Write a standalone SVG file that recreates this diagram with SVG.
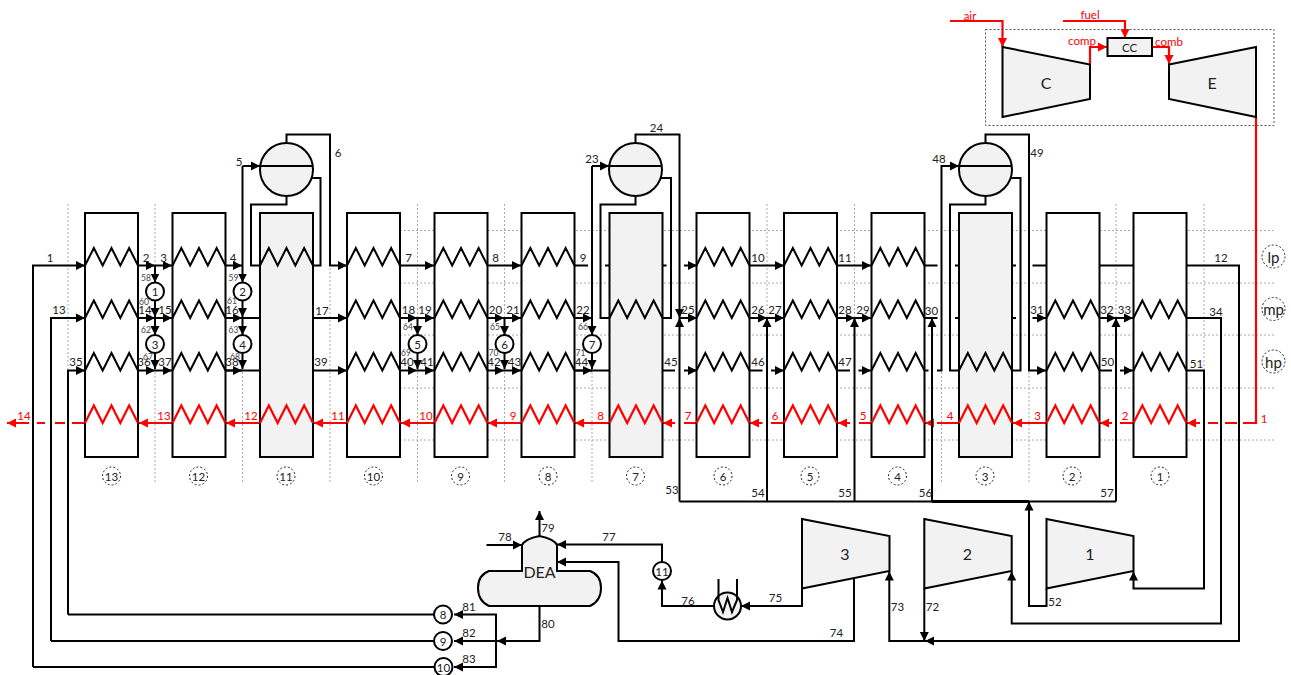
<svg xmlns="http://www.w3.org/2000/svg" width="1291" height="675" viewBox="0 0 1291 675">
<style>
text{font-family:Lato,"Liberation Sans",sans-serif;font-size:11.500px;fill:#222;text-anchor:middle;dominant-baseline:central}
.s{font-size:8.500px;fill:#444}
.r{fill:#f00}
.b{font-size:16px}
.l{font-size:15px}
.grid line{stroke:#aaa;stroke-width:1;stroke-dasharray:2 2;fill:none}
.dot{stroke:#555;stroke-width:1;stroke-dasharray:2 2;fill:none}
.dotc{stroke:#222;stroke-width:1;stroke-dasharray:2 2;fill:#fff}
.k,.k path{fill:none;stroke:#000;stroke-width:2}
.h,.h path{fill:none;stroke:#f00;stroke-width:2.200}
.box{fill:#fff;stroke:#000;stroke-width:2}
.gr{fill:#f2f2f2;stroke:#000;stroke-width:2}
.node{fill:#fff;stroke:#000;stroke-width:2}
.a{marker-end:url(#ak)}
.ar{marker-end:url(#ar)}
</style>
<defs>
<marker id="ak" markerUnits="userSpaceOnUse" markerWidth="10" markerHeight="10" refX="9" refY="5" orient="auto"><path d="M0 .5L9 5 0 9.500z" fill="#000"/></marker>
<marker id="ar" markerUnits="userSpaceOnUse" markerWidth="10" markerHeight="10" refX="9" refY="5" orient="auto"><path d="M0 .5L9 5 0 9.500z" fill="#f00"/></marker>
<path id="coil" d="M0 0l8.830-17.500 8.830 17.500 8.830-17.500 8.830 17.500 8.830-17.500 8.830 17.500" fill="none"/>
</defs>

<g class="grid">
<line x1="68" y1="204" x2="68" y2="483"/><line x1="155" y1="204" x2="155" y2="483"/><line x1="242.500" y1="204" x2="242.500" y2="483"/><line x1="330" y1="204" x2="330" y2="483"/><line x1="417.500" y1="204" x2="417.500" y2="483"/><line x1="504.500" y1="204" x2="504.500" y2="483"/><line x1="592" y1="204" x2="592" y2="483"/><line x1="679.500" y1="204" x2="679.500" y2="483"/><line x1="767" y1="204" x2="767" y2="483"/><line x1="854.500" y1="204" x2="854.500" y2="483"/><line x1="941.500" y1="204" x2="941.500" y2="483"/><line x1="1029" y1="204" x2="1029" y2="483"/><line x1="1116" y1="204" x2="1116" y2="483"/><line x1="1204" y1="204" x2="1204" y2="483"/>
<line x1="400" y1="230.500" x2="1274" y2="230.500"/><line x1="400" y1="283" x2="1274" y2="283"/><line x1="400" y1="335" x2="1274" y2="335"/><line x1="400" y1="388" x2="1274" y2="388"/><line x1="400" y1="440" x2="1274" y2="440"/>
</g>

<g id="connectors">
<g class="h">
<path class="ar" d="M1256 117V423H1243M1237 423H1225M1218 423H1208M1200 423H1187"/>
<path class="ar" d="M1133 423H1120M1112 423H1100"/>
<path class="ar" d="M1046 423H1013"/>
<path class="ar" d="M959 423H937M932 423H925"/>
<path class="ar" d="M871 423H859M850 423H838"/>
<path class="ar" d="M784 423H771M762.500 423H750"/>
<path class="ar" d="M697 423H684M675 423H663"/>
<path class="ar" d="M609 423H575"/>
<path class="ar" d="M521 423H488"/>
<path class="ar" d="M434 423H401"/>
<path class="ar" d="M347 423H314"/>
<path class="ar" d="M260 423H226"/>
<path class="ar" d="M172 423H139"/>
<path class="ar" d="M85 423H72M65 423H55M45 423H37M29 423H7"/>
<path class="ar" d="M950 21H1002.500V47"/>
<path class="ar" d="M1063 21H1125V38"/>
<path class="ar" d="M1090 64V47H1107"/>
<path class="ar" d="M1152 47H1169V64"/>
</g>
<g class="k">
<path class="a" d="M33 667V265.500H85"/>
<path class="a" d="M51 641V318H85"/>
<path class="a" d="M68 614.500V370.500H85"/>
<path class="a" d="M138 265.500H155"/><path class="a" d="M155 265.500H172"/><path class="a" d="M225 265.500H242"/>
<path class="a" d="M138 318H155"/><path class="a" d="M155 318H172"/><path d="M225 318H260"/><path class="a" d="M225 318H242"/>
<path class="a" d="M138 370.500H155"/><path class="a" d="M155 370.500H172"/><path d="M225 370.500H260"/><path class="a" d="M225 370.500H242"/>
<path class="a" d="M155 265.500V282.500"/><path class="a" d="M155 300V317"/><path class="a" d="M155 318V335"/><path class="a" d="M155 353V369"/>
<path class="a" d="M242.500 166V282.500"/><path class="a" d="M242.500 300V317"/><path class="a" d="M242.500 318V335"/><path class="a" d="M242.500 353V369"/>
<path d="M286.500 196V204.500H251V265.500H260M313 265.500H320.500V178H312"/>
<path class="a" d="M286.500 143V134.500H330V265.500H347"/>
<path class="a" d="M242.500 166H260"/>
<path class="a" d="M313 318H347"/><path class="a" d="M313 370.500H347"/>
<path class="a" d="M400 265.500H434"/><path class="a" d="M487 265.500H521"/><path d="M574 265.500H588M605 265.500H666.500"/><path class="a" d="M684 265.500H697"/>
<path class="a" d="M400 318H417"/><path class="a" d="M417 318H434"/><path class="a" d="M487 318H504"/><path class="a" d="M504 318H521"/><path class="a" d="M574 318H592"/>
<path class="a" d="M400 370.500H417"/><path class="a" d="M417 370.500H434"/><path class="a" d="M487 370.500H504"/><path class="a" d="M504 370.500H521"/><path d="M574 370.500H609"/><path class="a" d="M574 370.500H592"/>
<path class="a" d="M417.500 318V335"/><path class="a" d="M417.500 353V369"/><path class="a" d="M504.500 318V335"/><path class="a" d="M504.500 353V369"/>
<path class="a" d="M592 166V335"/><path class="a" d="M592 166H609"/><path class="a" d="M592 353V369"/>
<path d="M635.500 196V204.500H600.500V318H609M662 318H671V178H661"/>
<path class="a" d="M635.500 143V134.500H679.500V318"/>
<path class="a" d="M679.500 501.500V318"/><path class="a" d="M679.500 318H697"/>
<path d="M662 370.500H675"/><path class="a" d="M684 370.500H697"/>
<path class="a" d="M749 265.500H784"/><path class="a" d="M837 265.500H871"/><path d="M924 265.500H937.500M955 265.500H959"/>
<path class="a" d="M749 318H767"/><path class="a" d="M767 318H784"/><path class="a" d="M837 318H854.500"/><path class="a" d="M854.500 318H871"/><path d="M924 318H937.500M955 318H959"/>
<path d="M749 370.500H762.500"/><path class="a" d="M771 370.500H784"/><path d="M837 370.500H850"/><path class="a" d="M858.500 370.500H871"/>
<path d="M924 370.500H928.500M937 370.500H941.500V166H950"/><path class="a" d="M941.500 166H959"/>
<path d="M985.500 196V204.500H950V370.500H959M1012 370.500H1020.500V178H1011"/>
<path class="a" d="M985.500 143V134.500H1029V370.500H1046"/>
<path d="M1012 265.500H1016M1032.500 265.500H1046M1099 265.500H1133"/>
<path d="M1012 318H1016"/><path class="a" d="M1032.500 318H1046"/><path class="a" d="M1099 318H1116"/><path class="a" d="M1116 318H1133"/>
<path d="M1099 370.500H1112"/><path class="a" d="M1120 370.500H1133"/>
<path class="a" d="M1186 265.500H1239V641H925"/>
<path class="a" d="M1186 318H1221V623.500H1011.700V571.500"/>
<path class="a" d="M1186 370.500H1204V588.500H1133.500V571.500"/>
<path d="M679.500 501.500H1116"/><path d="M932 501.500H1029" style="stroke-width:3"/>
<path class="a" d="M767 501.500V318"/><path class="a" d="M854.500 501.500V318"/><path class="a" d="M932 501.500V318"/><path class="a" d="M1116 501.500V318"/>
<path class="a" d="M1046.500 588.500V606H1029V501.500"/>
<path class="a" d="M924.300 588.500V641"/>
<path class="a" d="M925 641H889.300V571.500"/>
<path class="a" d="M802 588.500V606H741"/>
<path class="a" d="M714 606H662V580.500"/>
<path class="a" d="M662 561.500V544.500H557"/>
<path class="a" d="M854 578V641H618.500V562H557"/>
<path class="a" d="M539.500 536V511"/>
<path class="a" d="M486.500 545H522"/>
<path class="a" d="M539.500 606V641H497"/>
<path d="M434 614.500H68M434 641H51M434 667H33"/>
<path class="a" d="M496 641V614.500H454"/><path class="a" d="M496 641H454"/><path class="a" d="M496 641V667H454"/>
</g>
</g>

<g id="col13" class="k"><rect class="box" x="85" y="213" width="53" height="244"/><use href="#coil" x="85" y="265.500"/><use href="#coil" x="85" y="318"/><use href="#coil" x="85" y="370.500"/><use href="#coil" x="85" y="423" class="h"/></g>
<g id="col12" class="k"><rect class="box" x="172.500" y="213" width="53" height="244"/><use href="#coil" x="172.500" y="265.500"/><use href="#coil" x="172.500" y="318"/><use href="#coil" x="172.500" y="370.500"/><use href="#coil" x="172.500" y="423" class="h"/></g>
<g id="col11" class="k"><rect class="gr" x="260" y="213" width="53" height="244"/><use href="#coil" x="260" y="265.500"/><use href="#coil" x="260" y="423" class="h"/></g>
<g id="col10" class="k"><rect class="box" x="347" y="213" width="53" height="244"/><use href="#coil" x="347" y="265.500"/><use href="#coil" x="347" y="318"/><use href="#coil" x="347" y="370.500"/><use href="#coil" x="347" y="423" class="h"/></g>
<g id="col9" class="k"><rect class="box" x="434.500" y="213" width="53" height="244"/><use href="#coil" x="434.500" y="265.500"/><use href="#coil" x="434.500" y="318"/><use href="#coil" x="434.500" y="370.500"/><use href="#coil" x="434.500" y="423" class="h"/></g>
<g id="col8" class="k"><rect class="box" x="521.500" y="213" width="53" height="244"/><use href="#coil" x="521.500" y="265.500"/><use href="#coil" x="521.500" y="318"/><use href="#coil" x="521.500" y="370.500"/><use href="#coil" x="521.500" y="423" class="h"/></g>
<g id="col7" class="k"><rect class="gr" x="609.500" y="213" width="53" height="244"/><use href="#coil" x="609.500" y="318"/><use href="#coil" x="609.500" y="423" class="h"/></g>
<g id="col6" class="k"><rect class="box" x="696.500" y="213" width="53" height="244"/><use href="#coil" x="696.500" y="265.500"/><use href="#coil" x="696.500" y="318"/><use href="#coil" x="696.500" y="370.500"/><use href="#coil" x="696.500" y="423" class="h"/></g>
<g id="col5" class="k"><rect class="box" x="784" y="213" width="53" height="244"/><use href="#coil" x="784" y="265.500"/><use href="#coil" x="784" y="318"/><use href="#coil" x="784" y="370.500"/><use href="#coil" x="784" y="423" class="h"/></g>
<g id="col4" class="k"><rect class="box" x="871.500" y="213" width="53" height="244"/><use href="#coil" x="871.500" y="265.500"/><use href="#coil" x="871.500" y="318"/><use href="#coil" x="871.500" y="370.500"/><use href="#coil" x="871.500" y="423" class="h"/></g>
<g id="col3" class="k"><rect class="gr" x="959" y="213" width="53" height="244"/><use href="#coil" x="959" y="370.500"/><use href="#coil" x="959" y="423" class="h"/></g>
<g id="col2" class="k"><rect class="box" x="1046.500" y="213" width="53" height="244"/><use href="#coil" x="1046.500" y="318"/><use href="#coil" x="1046.500" y="370.500"/><use href="#coil" x="1046.500" y="423" class="h"/></g>
<g id="col1" class="k"><rect class="box" x="1133.500" y="213" width="53" height="244"/><use href="#coil" x="1133.500" y="318"/><use href="#coil" x="1133.500" y="370.500"/><use href="#coil" x="1133.500" y="423" class="h"/></g>

<g id="drum5"><circle class="gr" cx="286.500" cy="169.500" r="26.500"/><path class="k" d="M260 166H313"/></g>
<g id="drum23"><circle class="gr" cx="635.500" cy="169.500" r="26.500"/><path class="k" d="M609 166H662"/></g>
<g id="drum48"><circle class="gr" cx="985.500" cy="169.500" r="26.500"/><path class="k" d="M959 166H1012"/></g>

<g id="pump1"><circle class="node" cx="155" cy="291.500" r="9"/><text x="155" y="291.500">1</text></g>
<g id="pump2"><circle class="node" cx="242.500" cy="291.500" r="9"/><text x="242.500" y="291.500">2</text></g>
<g id="pump3"><circle class="node" cx="155" cy="344" r="9"/><text x="155" y="344">3</text></g>
<g id="pump4"><circle class="node" cx="242.500" cy="344" r="9"/><text x="242.500" y="344">4</text></g>
<g id="pump5"><circle class="node" cx="417.500" cy="344" r="9"/><text x="417.500" y="344">5</text></g>
<g id="pump6"><circle class="node" cx="504.500" cy="344" r="9"/><text x="504.500" y="344">6</text></g>
<g id="pump7"><circle class="node" cx="592" cy="344" r="9"/><text x="592" y="344">7</text></g>
<g id="pump8"><circle class="node" cx="443" cy="614.500" r="9"/><text x="443" y="614.500">8</text></g>
<g id="pump9"><circle class="node" cx="443" cy="641" r="9"/><text x="443" y="641">9</text></g>
<g id="pump10"><circle class="node" cx="443.500" cy="667" r="9"/><text x="443.500" y="667">10</text></g>
<g id="pump11"><circle class="node" cx="662" cy="571" r="9"/><text x="662" y="571">11</text></g>

<g id="cooler"><circle class="node" cx="727.500" cy="606" r="13.500" style="fill:#f2f2f2"/><path class="k" d="M718.500 579V600L723 612 727.500 598 732 612 737 600V579"/></g>
<g id="dea"><path class="gr" d="M522 571V545Q525 539 539.500 536 554 539 557 545V571H590Q601 575 601 588 601 601 590 606H489Q478 601 478 588 478 575 489 571Z"/><text class="b" x="539.500" y="571">DEA</text></g>

<g id="t3"><path class="gr" d="M802 519L889.500 536V571L802 588.500Z"/><text class="b" x="845" y="553">3</text></g>
<g id="t2"><path class="gr" d="M924.300 519L1011.700 536V571L924.300 588.500Z"/><text class="b" x="967.500" y="553">2</text></g>
<g id="t1"><path class="gr" d="M1046.500 519L1133.500 536V571L1046.500 588.500Z"/><text class="b" x="1090" y="553">1</text></g>

<g id="gt"><rect class="dot" x="985.500" y="29.500" width="288.500" height="96"/>
<g id="c"><path class="gr" d="M1002.500 47L1090 64.500V99L1002.500 117Z"/><text class="b" x="1046" y="82">C</text></g>
<g id="e"><path class="gr" d="M1169 64.500L1256 47V117L1169 99Z"/><text class="b" x="1212" y="82">E</text></g>
<g id="cc"><rect class="gr" x="1107.500" y="38" width="44.500" height="18"/><text x="1129.500" y="47">CC</text></g>
</g>

<g id="labels-col">
<circle class="dotc" cx="111.500" cy="476" r="9"/><text x="111.500" y="476">13</text>
<circle class="dotc" cx="198.500" cy="476" r="9"/><text x="198.500" y="476">12</text>
<circle class="dotc" cx="286" cy="476" r="9"/><text x="286" y="476">11</text>
<circle class="dotc" cx="373.500" cy="476" r="9"/><text x="373.500" y="476">10</text>
<circle class="dotc" cx="460.500" cy="476" r="9"/><text x="460.500" y="476">9</text>
<circle class="dotc" cx="548" cy="476" r="9"/><text x="548" y="476">8</text>
<circle class="dotc" cx="635.500" cy="476" r="9"/><text x="635.500" y="476">7</text>
<circle class="dotc" cx="723" cy="476" r="9"/><text x="723" y="476">6</text>
<circle class="dotc" cx="810" cy="476" r="9"/><text x="810" y="476">5</text>
<circle class="dotc" cx="897.500" cy="476" r="9"/><text x="897.500" y="476">4</text>
<circle class="dotc" cx="985" cy="476" r="9"/><text x="985" y="476">3</text>
<circle class="dotc" cx="1072" cy="476" r="9"/><text x="1072" y="476">2</text>
<circle class="dotc" cx="1160" cy="476" r="9"/><text x="1160" y="476">1</text>
<circle class="dotc" cx="1273.500" cy="256.500" r="11.500"/><text class="l" x="1273.500" y="256.500">lp</text>
<circle class="dotc" cx="1273.500" cy="309" r="11.500"/><text class="l" x="1273.500" y="309">mp</text>
<circle class="dotc" cx="1273.500" cy="361.500" r="11.500"/><text class="l" x="1273.500" y="361.500">hp</text>
</g>

<g id="labels">
<text x="50" y="257">1</text><text x="146" y="257">2</text><text x="163.500" y="257">3</text><text x="233" y="257">4</text><text x="239" y="161">5</text><text x="338" y="152">6</text>
<text x="59" y="309">13</text><text x="145" y="309">14</text><text x="165" y="309">15</text><text x="232" y="309">16</text><text x="322" y="310">17</text>
<text x="76" y="361">35</text><text x="144" y="361">36</text><text x="165" y="361">37</text><text x="232" y="361">38</text><text x="321" y="361">39</text>
<text x="408.500" y="257">7</text><text x="495.500" y="257">8</text><text x="583" y="257">9</text>
<text x="408.500" y="309">18</text><text x="425" y="309">19</text><text x="495.500" y="309">20</text><text x="513" y="309">21</text><text x="583" y="309">22</text>
<text x="407" y="361">40</text><text x="427" y="361">41</text><text x="494" y="361">42</text><text x="514.500" y="361">43</text><text x="581.500" y="361">44</text>
<text x="592" y="158">23</text><text x="656.500" y="127">24</text><text x="671" y="361">45</text><text x="688" y="309">25</text>
<text x="758" y="257">10</text><text x="845" y="257">11</text><text x="758" y="309">26</text><text x="775" y="309">27</text><text x="845" y="309">28</text><text x="863" y="309">29</text><text x="931.500" y="310">30</text>
<text x="758" y="361">46</text><text x="845" y="361">47</text><text x="939" y="158">48</text><text x="1037" y="152">49</text><text x="1037" y="309">31</text><text x="1107" y="309">32</text><text x="1124.500" y="309">33</text><text x="1216" y="311">34</text><text x="1221" y="257">12</text><text x="1107.500" y="361">50</text><text x="1196.500" y="363">51</text>
<text x="672" y="489">53</text><text x="758" y="492">54</text><text x="845" y="492">55</text><text x="925.500" y="492">56</text><text x="1107" y="492">57</text>
<text x="1055" y="601">52</text><text x="932.500" y="606">72</text><text x="897.500" y="606">73</text><text x="836.500" y="632">74</text><text x="775.500" y="597">75</text><text x="688" y="600">76</text><text x="609" y="536">77</text><text x="505" y="536">78</text><text x="548" y="527">79</text><text x="548" y="623">80</text><text x="469" y="606">81</text><text x="469" y="632">82</text><text x="469" y="658">83</text>
<text class="s" x="146" y="278">58</text><text class="s" x="233.500" y="278">59</text><text class="s" x="144" y="302">60</text><text class="s" x="232" y="301">61</text><text class="s" x="146" y="329.500">62</text><text class="s" x="233.500" y="329.500">63</text><text class="s" x="148" y="357">67</text><text class="s" x="235" y="357">68</text><text class="s" x="408" y="327">64</text><text class="s" x="495" y="327">65</text><text class="s" x="583" y="327">66</text><text class="s" x="406" y="353">69</text><text class="s" x="493.500" y="353">70</text><text class="s" x="580.500" y="353">71</text>
<text class="r" x="24" y="415">14</text><text class="r" x="164" y="415">13</text><text class="r" x="251" y="415">12</text><text class="r" x="338" y="415">11</text><text class="r" x="426" y="415">10</text><text class="r" x="513" y="415">9</text><text class="r" x="600.500" y="415">8</text><text class="r" x="688" y="415">7</text><text class="r" x="775" y="415">6</text><text class="r" x="863" y="415">5</text><text class="r" x="950" y="415">4</text><text class="r" x="1037.500" y="415">3</text><text class="r" x="1125" y="415">2</text><text class="r" x="1264" y="418">1</text>
<text class="r" x="970" y="15.500">air</text><text class="r" x="1090" y="14">fuel</text><text class="r" x="1082" y="40">comp</text><text class="r" x="1169" y="41">comb</text>
</g>
</svg>
